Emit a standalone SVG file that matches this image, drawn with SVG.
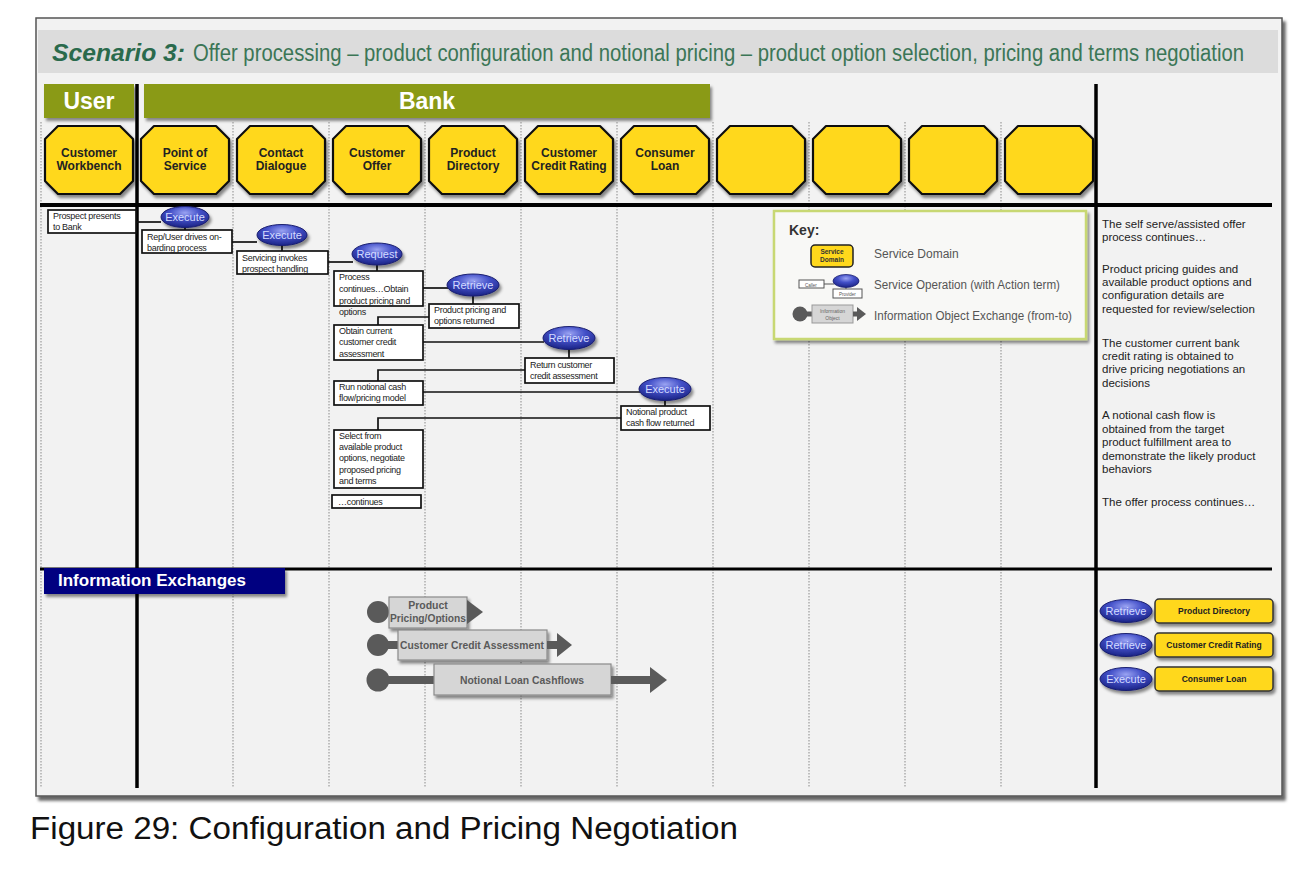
<svg xmlns="http://www.w3.org/2000/svg" xmlns:xlink="http://www.w3.org/1999/xlink" width="1300" height="871" viewBox="0 0 1300 871">
<defs>
<filter id="sh" x="-10%" y="-10%" width="130%" height="140%"><feDropShadow dx="2" dy="3" stdDeviation="1.6" flood-color="#000" flood-opacity="0.45"/></filter>
<filter id="fsh" x="-2%" y="-2%" width="104%" height="105%"><feDropShadow dx="3" dy="4" stdDeviation="1.5" flood-color="#000" flood-opacity="0.6"/></filter>
<radialGradient id="eg" cx="50%" cy="30%" r="70%"><stop offset="0" stop-color="#9aa3f2"/><stop offset="0.45" stop-color="#4350c8"/><stop offset="1" stop-color="#1b2385"/></radialGradient>
<polygon id="oct" points="13,0 75,0 88,13 88,55 75,68 13,68 0,55 0,13"/>
<style>
.f{font-family:"Liberation Sans",Arial,sans-serif}
.octs{fill:#FFD81C;stroke:#111;stroke-width:2.2;stroke-linejoin:round;filter:url(#sh)}
.nt{font-family:"Liberation Sans",Arial,sans-serif;font-weight:bold;font-size:12px;fill:#222;text-anchor:middle}
.bx{fill:#fff;stroke:#111;stroke-width:1.7}
.bt{font-family:"Liberation Sans",Arial,sans-serif;font-size:9px;letter-spacing:-0.3px;fill:#222}
.op{fill:url(#eg);stroke:#1a1f70;stroke-width:1;filter:url(#sh)}
.ot{font-family:"Liberation Sans",Arial,sans-serif;font-size:11px;fill:#d4dbff;text-anchor:middle}
.conn{stroke:#111;stroke-width:1.7;fill:none}
.lane{stroke:#8a8a8a;stroke-width:1;stroke-dasharray:1.5 1.5}
.thick{stroke:#000;fill:none}
.rt{font-family:"Liberation Sans",Arial,sans-serif;font-size:11.5px;fill:#222}
.kt{font-family:"Liberation Sans",Arial,sans-serif;font-size:12px;fill:#555}
.ie{fill:#d6d6d6;stroke:#8a8a8a;stroke-width:1.2;filter:url(#sh)}
.iet{font-family:"Liberation Sans",Arial,sans-serif;font-weight:bold;font-size:10.5px;fill:#5a5a5a;text-anchor:middle}
.dk{fill:#5a5a5a}
.yb{fill:#FFD81C;stroke:#333;stroke-width:1.5;filter:url(#sh)}
.ybt{font-family:"Liberation Sans",Arial,sans-serif;font-weight:bold;font-size:8.5px;fill:#222;text-anchor:middle}
</style>
</defs>
<rect width="1300" height="871" fill="#fff"/>
<!-- frame -->
<rect x="36" y="18" width="1246" height="778" fill="#f2f2f2" stroke="#555" stroke-width="1.5" filter="url(#fsh)"/>
<rect x="38" y="30" width="1240" height="43" fill="#dcdcdc"/>
<g id="title" transform="translate(0,61) scale(1,1.15) translate(0,-61)">
<text x="52" y="61" class="f" font-size="21" font-weight="bold" font-style="italic" fill="#2a6a4c" textLength="133" lengthAdjust="spacingAndGlyphs">Scenario 3:</text>
<text x="193" y="61" class="f" font-size="21" fill="#3b7656" textLength="1051" lengthAdjust="spacingAndGlyphs">Offer processing – product configuration and notional pricing – product option selection, pricing and terms negotiation</text>
</g>
<!-- actor bars -->
<g id="actor-user"><rect x="44" y="84" width="90" height="34" fill="#8a9a18" filter="url(#sh)"/><text x="89" y="109" class="f" font-size="23" font-weight="bold" fill="#fff" text-anchor="middle">User</text></g>
<g id="actor-bank"><rect x="144" y="84" width="566" height="34" fill="#8a9a18" filter="url(#sh)"/><text x="427" y="109" class="f" font-size="23" font-weight="bold" fill="#fff" text-anchor="middle">Bank</text></g>
<!-- lanes -->
<g id="lanes">
<line class="lane" x1="41" y1="122" x2="41" y2="788"/>
<line class="lane" x1="233" y1="122" x2="233" y2="788"/>
<line class="lane" x1="329" y1="122" x2="329" y2="788"/>
<line class="lane" x1="425" y1="122" x2="425" y2="788"/>
<line class="lane" x1="521" y1="122" x2="521" y2="788"/>
<line class="lane" x1="617" y1="122" x2="617" y2="788"/>
<line class="lane" x1="713" y1="122" x2="713" y2="788"/>
<line class="lane" x1="809" y1="122" x2="809" y2="788"/>
<line class="lane" x1="905" y1="122" x2="905" y2="788"/>
<line class="lane" x1="1001" y1="122" x2="1001" y2="788"/>
</g>
<g id="dividers">
<line class="thick" x1="137" y1="84" x2="137" y2="788" stroke-width="3.5"/>
<line class="thick" x1="1096" y1="84" x2="1096" y2="788" stroke-width="3.5"/>
<line class="thick" x1="40" y1="205" x2="1272" y2="205" stroke-width="4"/>
<line class="thick" x1="40" y1="569" x2="1272" y2="569" stroke-width="3"/>
</g>
<!-- service domain nodes -->
<g id="n-customer-workbench"><use href="#oct" x="45" y="126" class="octs"/><text class="nt" x="89" y="157">Customer</text><text class="nt" x="89" y="170">Workbench</text></g>
<g id="n-point-of-service"><use href="#oct" x="141" y="126" class="octs"/><text class="nt" x="185" y="157">Point of</text><text class="nt" x="185" y="170">Service</text></g>
<g id="n-contact-dialogue"><use href="#oct" x="237" y="126" class="octs"/><text class="nt" x="281" y="157">Contact</text><text class="nt" x="281" y="170">Dialogue</text></g>
<g id="n-customer-offer"><use href="#oct" x="333" y="126" class="octs"/><text class="nt" x="377" y="157">Customer</text><text class="nt" x="377" y="170">Offer</text></g>
<g id="n-product-directory"><use href="#oct" x="429" y="126" class="octs"/><text class="nt" x="473" y="157">Product</text><text class="nt" x="473" y="170">Directory</text></g>
<g id="n-customer-credit-rating"><use href="#oct" x="525" y="126" class="octs"/><text class="nt" x="569" y="157">Customer</text><text class="nt" x="569" y="170">Credit Rating</text></g>
<g id="n-consumer-loan"><use href="#oct" x="621" y="126" class="octs"/><text class="nt" x="665" y="157">Consumer</text><text class="nt" x="665" y="170">Loan</text></g>
<g id="n-empty-1"><use href="#oct" x="717" y="126" class="octs"/></g>
<g id="n-empty-2"><use href="#oct" x="813" y="126" class="octs"/></g>
<g id="n-empty-3"><use href="#oct" x="909" y="126" class="octs"/></g>
<g id="n-empty-4"><use href="#oct" x="1005" y="126" class="octs"/></g>
<!-- connectors -->
<g id="connectors">
<path class="conn" d="M137,222 H161"/>
<path class="conn" d="M185,227 V230"/>
<path class="conn" d="M232,242 H257"/>
<path class="conn" d="M282,245 V251"/>
<path class="conn" d="M328,262 H353"/>
<path class="conn" d="M377,265 V271"/>
<path class="conn" d="M423,288 H448"/>
<path class="conn" d="M473,296 V304"/>
<path class="conn" d="M429,317 H378 V325"/>
<path class="conn" d="M423,342 H544"/>
<path class="conn" d="M569,350 V358"/>
<path class="conn" d="M525,370 H378 V381"/>
<path class="conn" d="M423,392 H640"/>
<path class="conn" d="M665,400 V406"/>
<path class="conn" d="M621,418 H378 V430"/>
</g>
<!-- sequence steps -->
<g id="s1"><rect class="bx" x="48" y="210" width="88" height="23"/><text class="bt" x="53" y="219">Prospect presents</text><text class="bt" x="53" y="230">to Bank</text></g>
<g id="op1"><ellipse class="op" cx="185" cy="217" rx="24" ry="10.5"/><text class="ot" x="185" y="221">Execute</text></g>
<g id="s2"><rect class="bx" x="142" y="230" width="90" height="23"/><text class="bt" x="147" y="240">Rep/User drives on-</text><text class="bt" x="147" y="251">barding process</text></g>
<g id="op2"><ellipse class="op" cx="282" cy="235" rx="25" ry="10.5"/><text class="ot" x="282" y="239">Execute</text></g>
<g id="s3"><rect class="bx" x="237" y="251" width="91" height="23"/><text class="bt" x="242" y="261">Servicing invokes</text><text class="bt" x="242" y="272">prospect handling</text></g>
<g id="op3"><ellipse class="op" cx="377" cy="254" rx="25" ry="11"/><text class="ot" x="377" y="258">Request</text></g>
<g id="s4"><rect class="bx" x="334" y="271" width="89" height="35"/><text class="bt" x="339" y="280">Process</text><text class="bt" x="339" y="292">continues…Obtain</text><text class="bt" x="339" y="304">product pricing and</text><text class="bt" x="339" y="315">options</text></g>
<g id="op4"><ellipse class="op" cx="473" cy="285" rx="26" ry="11"/><text class="ot" x="473" y="289">Retrieve</text></g>
<g id="s5"><rect class="bx" x="429" y="304" width="90" height="24"/><text class="bt" x="434" y="313">Product pricing and</text><text class="bt" x="434" y="324">options returned</text></g>
<g id="s6"><rect class="bx" x="334" y="325" width="89" height="35"/><text class="bt" x="339" y="334">Obtain current</text><text class="bt" x="339" y="345">customer credit</text><text class="bt" x="339" y="357">assessment</text></g>
<g id="op5"><ellipse class="op" cx="569" cy="338" rx="26" ry="11.5"/><text class="ot" x="569" y="342">Retrieve</text></g>
<g id="s7"><rect class="bx" x="525" y="358" width="89" height="25"/><text class="bt" x="530" y="368">Return customer</text><text class="bt" x="530" y="379">credit assessment</text></g>
<g id="s8"><rect class="bx" x="334" y="381" width="89" height="24"/><text class="bt" x="339" y="390">Run notional cash</text><text class="bt" x="339" y="401">flow/pricing model</text></g>
<g id="op6"><ellipse class="op" cx="665" cy="389" rx="26" ry="11.5"/><text class="ot" x="665" y="393">Execute</text></g>
<g id="s9"><rect class="bx" x="621" y="406" width="89" height="24"/><text class="bt" x="626" y="415">Notional product</text><text class="bt" x="626" y="426">cash flow returned</text></g>
<g id="s10"><rect class="bx" x="334" y="430" width="89" height="58"/><text class="bt" x="339" y="439">Select from</text><text class="bt" x="339" y="450">available product</text><text class="bt" x="339" y="461">options, negotiate</text><text class="bt" x="339" y="473">proposed pricing</text><text class="bt" x="339" y="484">and terms</text></g>
<g id="s11"><rect class="bx" x="332" y="495" width="89" height="13"/><text class="bt" x="338" y="505">…continues</text></g>
<!-- key -->
<g id="key">
<rect x="774" y="211" width="312" height="128" fill="#f8f8f6" stroke="#c8d873" stroke-width="2.5" filter="url(#sh)"/>
<text x="789" y="235" class="f" font-size="14" font-weight="bold" fill="#333">Key:</text>
<rect x="811" y="245" width="42" height="22" rx="4" fill="#FFD81C" stroke="#222" stroke-width="1.5"/>
<text x="832" y="254" class="f" font-size="6.5" font-weight="bold" fill="#333" text-anchor="middle">Service</text>
<text x="832" y="262" class="f" font-size="6.5" font-weight="bold" fill="#333" text-anchor="middle">Domain</text>
<text x="874" y="258" class="kt">Service Domain</text>
<rect x="799" y="280" width="25" height="8" fill="#fff" stroke="#555" stroke-width="1"/>
<text x="811" y="286.5" class="f" font-size="4.5" fill="#555" text-anchor="middle">Caller</text>
<line x1="824" y1="284" x2="834" y2="284" stroke="#555" stroke-width="1"/>
<line x1="846" y1="287" x2="846" y2="290" stroke="#555" stroke-width="1"/>
<ellipse cx="846" cy="281" rx="13" ry="6.5" fill="url(#eg)" stroke="#1a1f70" stroke-width="0.8"/>
<rect x="833" y="289" width="29" height="9" fill="#fff" stroke="#555" stroke-width="1"/>
<text x="847.5" y="295.5" class="f" font-size="4.5" fill="#555" text-anchor="middle">Provider</text>
<text x="874" y="289" class="kt" textLength="186" lengthAdjust="spacingAndGlyphs">Service Operation (with Action term)</text>
<circle cx="800" cy="314" r="7.5" fill="#5a5a5a"/>
<rect x="806" y="311.5" width="8" height="5" fill="#5a5a5a"/>
<rect x="812" y="305" width="41" height="18" fill="#d6d6d6" stroke="#999" stroke-width="1"/>
<text x="832.5" y="312.5" class="f" font-size="5" fill="#666" text-anchor="middle">Information</text>
<text x="832.5" y="319.5" class="f" font-size="5" fill="#666" text-anchor="middle">Object</text>
<rect x="853" y="311.5" width="5" height="5" fill="#5a5a5a"/>
<polygon points="857,307 866,314 857,321" fill="#5a5a5a"/>
<text x="874" y="320" class="kt" textLength="198" lengthAdjust="spacingAndGlyphs">Information Object Exchange (from-to)</text>
</g>
<!-- right notes -->
<g id="notes">
<text class="rt" x="1102" y="228">The self serve/assisted offer</text>
<text class="rt" x="1102" y="241">process continues…</text>
<text class="rt" x="1102" y="273">Product pricing guides and</text>
<text class="rt" x="1102" y="286">available product options and</text>
<text class="rt" x="1102" y="299">configuration details are</text>
<text class="rt" x="1102" y="313">requested for review/selection</text>
<text class="rt" x="1102" y="347">The customer current bank</text>
<text class="rt" x="1102" y="360">credit rating is obtained to</text>
<text class="rt" x="1102" y="373">drive pricing negotiations an</text>
<text class="rt" x="1102" y="387">decisions</text>
<text class="rt" x="1102" y="419">A notional cash flow is</text>
<text class="rt" x="1102" y="433">obtained from the target</text>
<text class="rt" x="1102" y="446">product fulfillment area to</text>
<text class="rt" x="1102" y="460">demonstrate the likely product</text>
<text class="rt" x="1102" y="473">behaviors</text>
<text class="rt" x="1102" y="506">The offer process continues…</text>
</g>
<!-- information exchanges -->
<g id="ie-header"><rect x="44" y="568" width="241" height="26" fill="#000080" filter="url(#sh)"/><text x="58" y="586" class="f" font-size="17" font-weight="bold" fill="#fff">Information Exchanges</text></g>
<g id="ie1">
<circle class="dk" cx="378" cy="612" r="11"/>
<rect class="ie" x="389" y="597" width="78" height="31"/>
<polygon class="dk" points="467,600 483,612 467,624"/>
<text class="iet" x="428" y="609">Product</text>
<text class="iet" x="428" y="622" textLength="76" lengthAdjust="spacingAndGlyphs">Pricing/Options</text>
</g>
<g id="ie2">
<circle class="dk" cx="378" cy="645" r="11"/>
<rect class="dk" x="386" y="641" width="14" height="8"/>
<rect class="ie" x="398" y="630" width="149" height="30"/>
<rect class="dk" x="547" y="641" width="11" height="8"/>
<polygon class="dk" points="557,633 572,645 557,657"/>
<text class="iet" x="472" y="649" textLength="144" lengthAdjust="spacingAndGlyphs">Customer Credit Assessment</text>
</g>
<g id="ie3">
<circle class="dk" cx="378" cy="680" r="11.5"/>
<rect class="dk" x="386" y="676" width="50" height="8"/>
<rect class="ie" x="434" y="664" width="177" height="31"/>
<rect class="dk" x="611" y="676" width="40" height="8"/>
<polygon class="dk" points="650,667 667,680 650,693"/>
<text class="iet" x="522" y="684" textLength="124" lengthAdjust="spacingAndGlyphs">Notional Loan Cashflows</text>
</g>
<!-- right legend of operations -->
<g id="sum1"><ellipse class="op" cx="1126" cy="611" rx="26" ry="11.5"/><text class="ot" x="1126" y="615">Retrieve</text><rect class="yb" x="1155" y="599" width="118" height="24" rx="4"/><text class="ybt" x="1214" y="614">Product Directory</text></g>
<g id="sum2"><ellipse class="op" cx="1126" cy="645" rx="26" ry="11.5"/><text class="ot" x="1126" y="649">Retrieve</text><rect class="yb" x="1155" y="633" width="118" height="24" rx="4"/><text class="ybt" x="1214" y="648">Customer Credit Rating</text></g>
<g id="sum3"><ellipse class="op" cx="1126" cy="679" rx="26" ry="11.5"/><text class="ot" x="1126" y="683">Execute</text><rect class="yb" x="1155" y="667" width="118" height="24" rx="4"/><text class="ybt" x="1214" y="682">Consumer Loan</text></g>
<!-- caption -->
<text x="30" y="839" class="f" font-size="31" fill="#111" textLength="708" lengthAdjust="spacingAndGlyphs">Figure 29: Configuration and Pricing Negotiation</text>
</svg>
